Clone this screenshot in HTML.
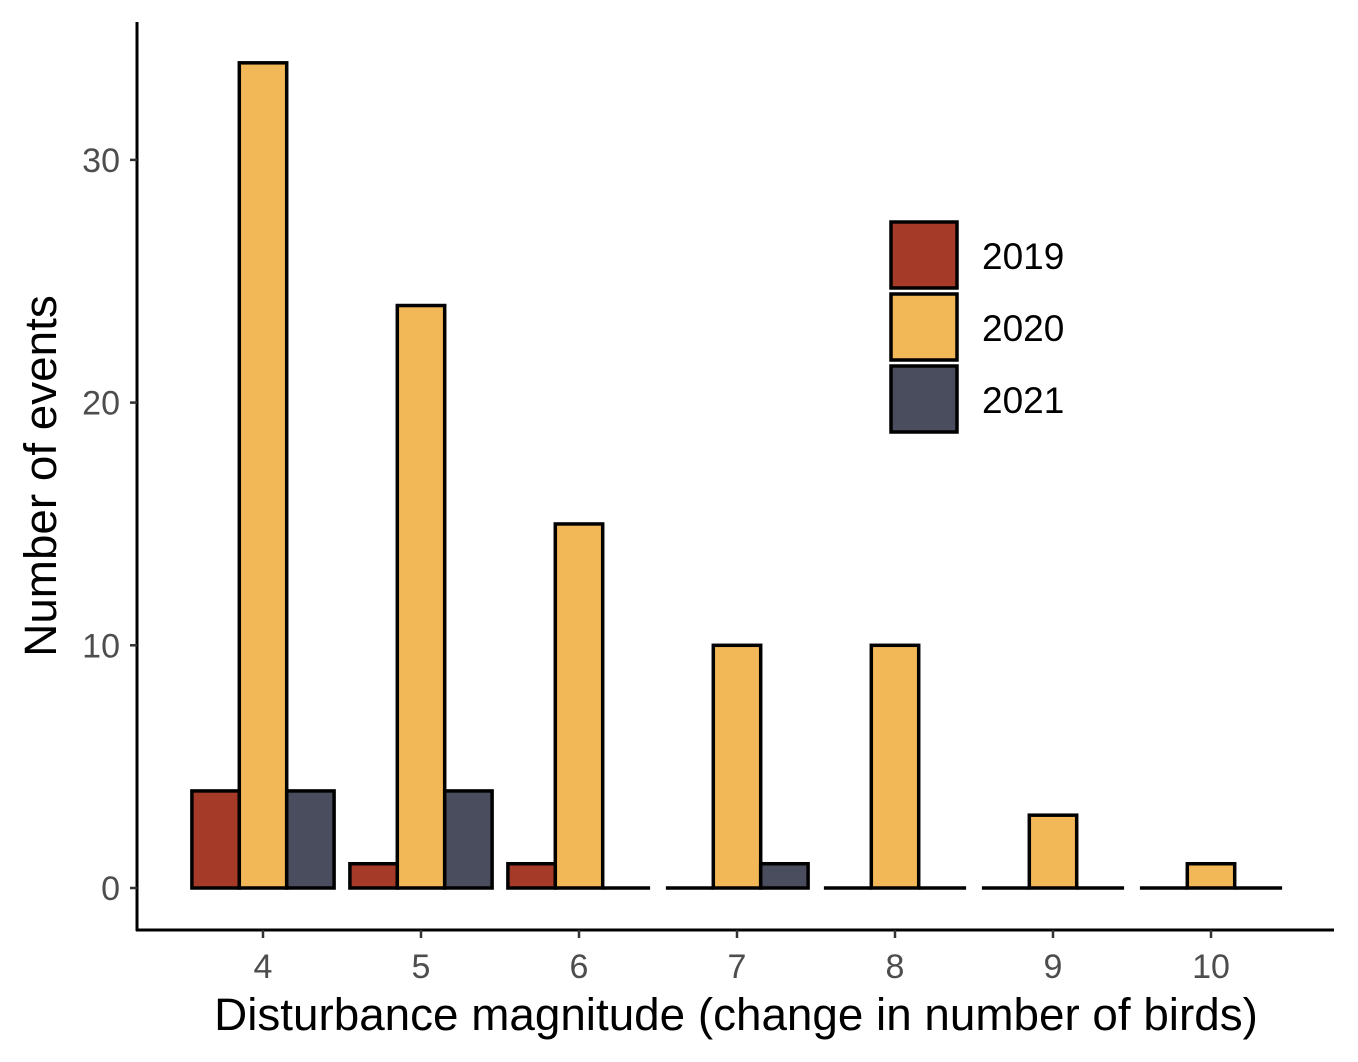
<!DOCTYPE html>
<html><head><meta charset="utf-8"><style>
body{margin:0;background:#fff;}
svg{display:block;font-family:"Liberation Sans",Arial,sans-serif;}
</style></head><body>
<svg id="chart" width="1358" height="1062" viewBox="0 0 1358 1062">
<g id="bars"></g>
<g id="axes"></g>
<g id="legend"></g>
</svg>
<script>
const categories = [4,5,6,7,8,9,10];
const years = ["2019","2020","2021"];
const v2019 = [4,1,1,0,0,0,0];
const v2020 = [34,24,15,10,10,3,1];
const v2021 = [4,4,0,1,0,0,0];
const yTicks = [0,10,20,30];
const colors = ["#A63A28","#F2B756","#4A4D5E"];
const series = [v2019,v2020,v2021];
const NS="http://www.w3.org/2000/svg";
function mk(tag,attrs,parent){const e=document.createElementNS(NS,tag);for(const k in attrs)e.setAttribute(k,attrs[k]);parent.appendChild(e);return e;}
const xScale = c => 263 + (c-4)*158;
const yScale = v => 888 - v*24.27;
const bw = 47.4;
const bars=document.getElementById('bars'), axes=document.getElementById('axes'), legend=document.getElementById('legend');
categories.forEach((c,i)=>{
  series.forEach((s,j)=>{
    const x = xScale(c) - 1.5*bw + j*bw;
    const v = s[i];
    let el;
    if(v>0){
      el=mk('rect',{x:x,y:yScale(v),width:bw,height:yScale(0)-yScale(v),fill:colors[j],stroke:'#000','stroke-width':3.5},bars);
    } else {
      el=mk('line',{x1:x,x2:x+bw,y1:yScale(0),y2:yScale(0),stroke:'#000','stroke-width':3.5},bars);
    }
    
    
  });
});
let l=mk('line',{x1:137,x2:137,y1:22,y2:931,stroke:'#000','stroke-width':3},axes);


l=mk('line',{x1:136,x2:1334,y1:930,y2:930,stroke:'#000','stroke-width':3},axes);


yTicks.forEach(t=>{
  mk('line',{x1:130,x2:137,y1:yScale(t),y2:yScale(t),stroke:'#333','stroke-width':2.5},axes);
  const tx=mk('text',{x:120,y:yScale(t)+12,'text-anchor':'end','font-size':34,fill:'#4d4d4d'},axes);
  tx.textContent=t;
  
  
});
categories.forEach(c=>{
  mk('line',{x1:xScale(c),x2:xScale(c),y1:930,y2:938,stroke:'#333','stroke-width':2.5},axes);
  const tx=mk('text',{x:xScale(c),y:978,'text-anchor':'middle','font-size':34,fill:'#4d4d4d'},axes);
  tx.textContent=c;
  
  
});
let t=mk('text',{x:736,y:1030,'text-anchor':'middle','font-size':45.8,fill:'#000'},axes);
t.textContent='Disturbance magnitude (change in number of birds)';


t=mk('text',{x:0,y:0,'text-anchor':'middle','font-size':45.8,fill:'#000',transform:'translate(56,476) rotate(-90)'},axes);
t.textContent='Number of events';


years.forEach((y,j)=>{
  const top=222+j*72;
  const r=mk('rect',{x:891,y:top,width:66,height:66,fill:colors[j],stroke:'#000','stroke-width':3.5},legend);
  
  
  const tx=mk('text',{x:982,y:top+47,'font-size':37,fill:'#000'},legend);
  tx.textContent=y;
  
  
});
</script>
</body></html>
